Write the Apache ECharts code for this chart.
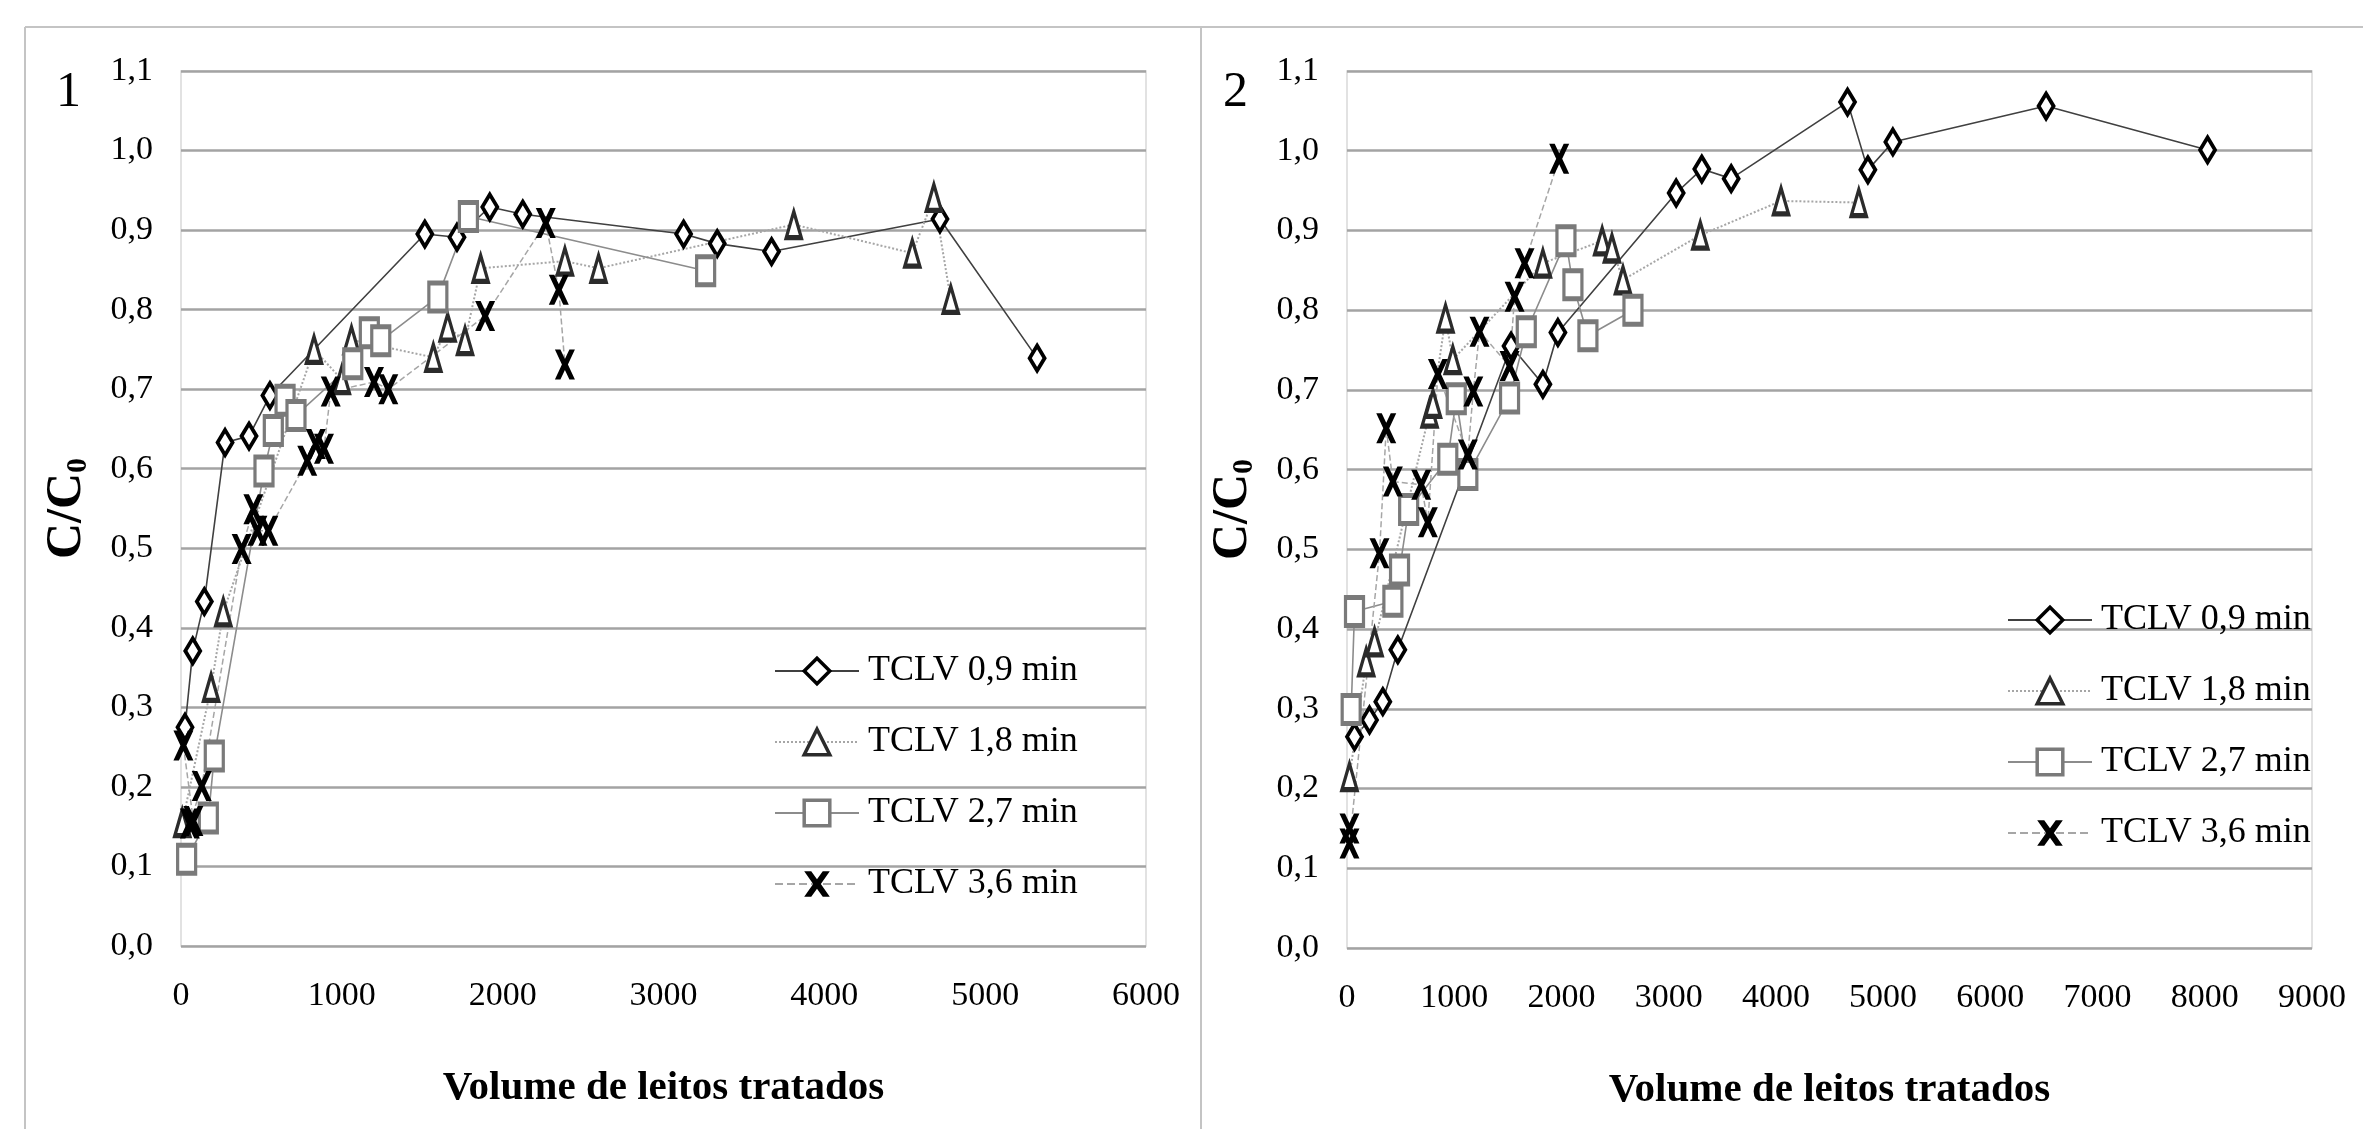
<!DOCTYPE html>
<html>
<head>
<meta charset="utf-8">
<title>C/C0 x Volume de leitos tratados</title>
<script src="https://cdn.jsdelivr.net/npm/echarts@6/dist/echarts.min.js"></script>
<style>
  html, body { margin: 0; padding: 0; background: #fff; }
  #chart { width: 2363px; height: 1129px; }
</style>
</head>
<body>
<div id="chart"></div>
<script>
// pontos: [volume de leitos tratados, C/C0]
const seriesNames = ['TCLV 0,9 min', 'TCLV 1,8 min', 'TCLV 2,7 min', 'TCLV 3,6 min'];

// gráfico 1
const g1_t09 = [[25, 0.275], [73, 0.371], [145, 0.433], [274, 0.633], [423, 0.641], [553, 0.692],
  [1516, 0.895], [1716, 0.891], [1920, 0.929], [2125, 0.92], [3125, 0.895], [3334, 0.883],
  [3672, 0.873], [4719, 0.914], [5323, 0.739]];
const g1_t18 = [[8, 0.155], [187, 0.325], [263, 0.42], [827, 0.75], [1000, 0.712], [1060, 0.762],
  [1569, 0.74], [1658, 0.778], [1766, 0.761], [1863, 0.852], [2387, 0.861], [2596, 0.852],
  [3810, 0.907], [4547, 0.871], [4681, 0.941], [4786, 0.813]];
const g1_t27 = [[35, 0.109], [170, 0.161], [207, 0.239], [516, 0.597], [574, 0.648], [647, 0.686],
  [715, 0.667], [1068, 0.732], [1171, 0.771], [1242, 0.761], [1597, 0.816], [1787, 0.917],
  [3262, 0.849]];
const g1_t36 = [[15, 0.252], [77, 0.157], [55, 0.154], [129, 0.201], [377, 0.499], [450, 0.549],
  [475, 0.522], [543, 0.522], [785, 0.61], [838, 0.631], [889, 0.625], [931, 0.697],
  [1200, 0.709], [1289, 0.70], [1891, 0.792], [2268, 0.909], [2349, 0.825], [2387, 0.731]];

// gráfico 2
const g2_t09 = [[70, 0.265], [210, 0.286], [334, 0.309], [474, 0.374], [1530, 0.755], [1827, 0.707],
  [1967, 0.772], [3070, 0.947], [3309, 0.977], [3583, 0.965], [4668, 1.061], [4858, 0.976],
  [5091, 1.011], [6520, 1.056], [8026, 1.001]];
const g2_t18 = [[23, 0.215], [179, 0.359], [257, 0.384], [770, 0.671], [802, 0.683], [919, 0.79],
  [987, 0.738], [1827, 0.859], [2380, 0.887], [2471, 0.878], [2574, 0.838], [3295, 0.894],
  [4048, 0.937], [4773, 0.935]];
const g2_t27 = [[39, 0.299], [70, 0.422], [428, 0.435], [490, 0.474], [575, 0.55], [940, 0.613],
  [1019, 0.689], [1127, 0.594], [1516, 0.69], [1672, 0.773], [2042, 0.887], [2107, 0.832],
  [2247, 0.768], [2667, 0.80]];
const g2_t36 = [[23, 0.15], [23, 0.131], [303, 0.495], [366, 0.652], [428, 0.585], [692, 0.581],
  [754, 0.534], [848, 0.72], [1127, 0.619], [1178, 0.698], [1236, 0.773], [1516, 0.73],
  [1563, 0.817], [1656, 0.859], [1979, 0.99]];

const xMax1 = 6000, xMax2 = 9000;
const FONT = "'Liberation Serif', 'Times New Roman', serif";

// marcador "x" cheio (traço grosso)
const xPath = 'path://M0,0 L5.5,0 L10,9.5 L14.5,0 L20,0 L13,15 L20,30 L14.5,30 L10,20.5 L5.5,30 L0,30 L7,15 Z';

const marks = [
  { symbol: 'diamond', size: [15, 25], item: { color: '#fff', borderColor: '#000', borderWidth: 4 },
    line: { color: '#404040', width: 1.6, type: 'solid' } },
  { symbol: 'triangle', size: [15, 26], item: { color: '#fff', borderColor: '#2b2b2b', borderWidth: 4 },
    line: { color: '#a6a6a6', width: 2, type: 'dotted' } },
  { symbol: 'rect', size: [18, 28], item: { color: '#fff', borderColor: '#7a7a7a', borderWidth: 4 },
    line: { color: '#8c8c8c', width: 1.6, type: 'solid' } },
  { symbol: xPath, size: [20, 30], item: { color: '#000', borderWidth: 0 },
    line: { color: '#a6a6a6', width: 1.5, type: 'dashed' } }
];

function mkSeries(data, i, idx) {
  return {
    name: seriesNames[i],
    type: 'line',
    xAxisIndex: idx,
    yAxisIndex: idx,
    data: data,
    symbol: marks[i].symbol,
    symbolSize: marks[i].size,
    symbolKeepAspect: false,
    showAllSymbol: true,
    lineStyle: marks[i].line,
    itemStyle: marks[i].item,
    emphasis: { disabled: true }
  };
}

const yLabel = v => v.toFixed(1).replace('.', ',');

function mkX(idx, max) {
  return {
    type: 'value', gridIndex: idx, min: 0, max: max, interval: 1000,
    axisLine: { show: false }, axisTick: { show: false }, splitLine: { show: false },
    axisLabel: { color: '#000', fontFamily: FONT, fontSize: 34, margin: 33, formatter: v => String(v) },
    name: 'Volume de leitos tratados', nameLocation: 'middle', nameGap: 122,
    nameTextStyle: { color: '#000', fontFamily: FONT, fontSize: 41, fontWeight: 'bold' }
  };
}

function mkY(idx) {
  return {
    type: 'value', gridIndex: idx, min: 0, max: 1.1, interval: 0.1,
    axisLine: { show: false }, axisTick: { show: false },
    splitLine: { show: true, lineStyle: { color: '#a3a3a3', width: 2.5 } },
    axisLabel: { color: '#000', fontFamily: FONT, fontSize: 34, margin: 28, formatter: yLabel },
    name: 'C/C{s|0}', nameLocation: 'middle', nameGap: 88,
    nameTextStyle: {
      color: '#000', fontFamily: FONT, fontSize: 50, fontWeight: 'bold',
      rich: { s: { fontFamily: FONT, fontSize: 30, fontWeight: 'bold', padding: [22, 0, 0, 0] } }
    }
  };
}

function mkLegend(left, top) {
  return {
    orient: 'vertical', left: left, top: top,
    itemWidth: 84, itemHeight: 32, itemGap: 35,
    selectedMode: false,
    data: seriesNames,
    itemStyle: { borderWidth: 3.5 },
    textStyle: { color: '#000', fontFamily: FONT, fontSize: 36, lineHeight: 32, padding: [0, 0, 0, 4] }
  };
}

const frame = { stroke: '#c4c4c4', lineWidth: 2 };

const option = {
  animation: false,
  backgroundColor: '#fff',
  grid: [
    { left: 181, top: 71, width: 965, height: 875, show: true, borderColor: '#d9d9d9', borderWidth: 1.5 },
    { left: 1347, top: 71, width: 965, height: 877, show: true, borderColor: '#d9d9d9', borderWidth: 1.5 }
  ],
  xAxis: [mkX(0, xMax1), mkX(1, xMax2)],
  yAxis: [mkY(0), mkY(1)],
  legend: [mkLegend(769, 648), mkLegend(2002, 597)],
  graphic: [
    { type: 'line', shape: { x1: 25, y1: 27, x2: 2363, y2: 27 }, style: frame, silent: true },
    { type: 'line', shape: { x1: 25, y1: 27, x2: 25, y2: 1129 }, style: frame, silent: true },
    { type: 'line', shape: { x1: 1201, y1: 27, x2: 1201, y2: 1129 }, style: frame, silent: true },
    { type: 'text', left: 56, top: 68, style: { text: '1', fontFamily: FONT, fontSize: 50, fill: '#000' } },
    { type: 'text', left: 1223, top: 68, style: { text: '2', fontFamily: FONT, fontSize: 50, fill: '#000' } }
  ],
  series: [
    mkSeries(g1_t09, 0, 0), mkSeries(g1_t18, 1, 0), mkSeries(g1_t27, 2, 0), mkSeries(g1_t36, 3, 0),
    mkSeries(g2_t09, 0, 1), mkSeries(g2_t18, 1, 1), mkSeries(g2_t27, 2, 1), mkSeries(g2_t36, 3, 1)
  ]
};

const chart = echarts.init(document.getElementById('chart'));
chart.setOption(option);
</script>
</body>
</html>
